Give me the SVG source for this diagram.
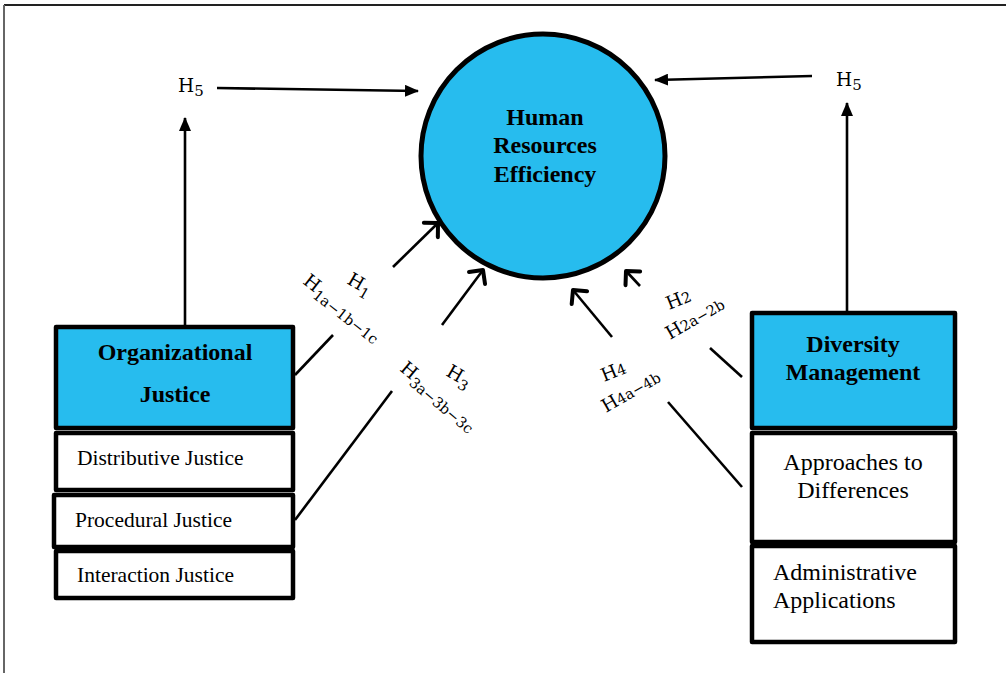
<svg xmlns="http://www.w3.org/2000/svg" width="1006" height="673" viewBox="0 0 1006 673">
<style>
.box{stroke:#000;stroke-width:4.5;stroke-linejoin:round}
.main{fill:#27bcee}
.sub{fill:#fff}
.bold{font-family:"Liberation Serif",serif;font-weight:bold;font-size:24px;fill:#000;text-anchor:middle}
.reg{font-family:"Liberation Serif",serif;font-size:21.5px;fill:#000}
.big{font-family:"Liberation Serif",serif;font-size:24px;fill:#000}
.h{font-family:"DejaVu Serif",serif;font-size:18.5px;fill:#000}
.ln{stroke:#000;stroke-width:2.6;fill:none}
.open{marker-end:url(#chev)}
.fill{marker-end:url(#tri)}
</style>
<defs>
<marker id="chev" markerUnits="userSpaceOnUse" viewBox="0 0 20 24" refX="16" refY="12" markerWidth="20" markerHeight="24" orient="auto" overflow="visible">
<path d="M6,2 L16,12 L6,22" fill="none" stroke="#000" stroke-width="4" stroke-linecap="round" stroke-linejoin="round"/>
</marker>
<marker id="tri" markerUnits="userSpaceOnUse" viewBox="0 0 14 12" refX="13" refY="6" markerWidth="14" markerHeight="12" orient="auto">
<path d="M0,0 L14,6 L0,12 Z" fill="#000"/>
</marker>
</defs>
<rect x="0" y="0" width="1006" height="673" fill="#fff"/>
<line x1="4" y1="5" x2="1006" y2="5" stroke="#222" stroke-width="2"/>
<line x1="4" y1="5" x2="4" y2="673" stroke="#666" stroke-width="2"/>

<g id="connectors">
<line class="ln fill" x1="185" y1="327" x2="185" y2="118"/>
<line class="ln fill" x1="847" y1="312" x2="847" y2="103"/>
<line class="ln fill" x1="217" y1="88" x2="418" y2="91"/>
<line class="ln fill" x1="812" y1="76" x2="655" y2="80"/>
<line class="ln" x1="295" y1="375" x2="333" y2="335"/>
<line class="ln open" x1="393" y1="267" x2="438" y2="223"/>
<line class="ln" x1="295" y1="520" x2="392" y2="391"/>
<line class="ln open" x1="442" y1="325" x2="483" y2="270"/>
<line class="ln" x1="742" y1="377" x2="710" y2="348"/>
<line class="ln open" x1="640" y1="286" x2="626" y2="271"/>
<line class="ln" x1="742" y1="487" x2="668" y2="402"/>
<line class="ln open" x1="612" y1="337" x2="573" y2="290"/>
</g>

<g id="labels">
<text class="h" x="178" y="92" font-size="20">H<tspan font-size="15" dy="4">5</tspan></text>
<text class="h" x="836" y="86" font-size="20">H<tspan font-size="15" dy="4">5</tspan></text>
<text class="h" transform="translate(346,283) rotate(30)">H<tspan font-size="14.5" dy="5">1</tspan></text>
<text class="h" transform="translate(302,283) rotate(38)">H<tspan font-size="14.5" dy="5">1a−1b−1c</tspan></text>
<text class="h" transform="translate(445,375) rotate(30)">H<tspan font-size="14.5" dy="5">3</tspan></text>
<text class="h" transform="translate(399,370) rotate(40)">H<tspan font-size="14.5" dy="5">3a−3b−3c</tspan></text>
<text class="h" transform="translate(669,310) rotate(-22)">H<tspan font-size="14.5" dy="0">2</tspan></text>
<text class="h" transform="translate(670,340) rotate(-30)">H<tspan font-size="14.5" dy="0">2a−2b</tspan></text>
<text class="h" transform="translate(604,382) rotate(-22)">H<tspan font-size="14.5" dy="0">4</tspan></text>
<text class="h" transform="translate(606,413) rotate(-30)">H<tspan font-size="14.5" dy="0">4a−4b</tspan></text>
</g>

<g id="hr-efficiency">
<circle cx="543" cy="156" r="122" fill="#27bcee" stroke="#000" stroke-width="5"/>
<text class="bold" x="545" y="125">Human</text>
<text class="bold" x="545" y="153">Resources</text>
<text class="bold" x="545" y="182">Efficiency</text>
</g>

<g id="organizational-justice">
<rect class="box main" x="56" y="327" width="237" height="101"/>
<text class="bold" x="175" y="360">Organizational</text>
<text class="bold" x="175" y="402">Justice</text>
</g>
<g id="distributive-justice">
<rect class="box sub" x="56" y="433" width="237" height="57"/>
<text class="reg" x="77" y="465">Distributive Justice</text>
</g>
<g id="procedural-justice">
<rect class="box sub" x="54" y="495" width="239" height="52"/>
<text class="reg" x="75" y="527">Procedural Justice</text>
</g>
<g id="interaction-justice">
<rect class="box sub" x="56" y="551" width="237" height="47"/>
<text class="reg" x="77" y="582">Interaction Justice</text>
</g>

<g id="diversity-management">
<rect class="box main" x="752" y="313" width="203" height="115"/>
<text class="bold" x="853" y="352">Diversity</text>
<text class="bold" x="853" y="380">Management</text>
</g>
<g id="approaches">
<rect class="box sub" x="752" y="433" width="203" height="109"/>
<text class="big" x="853" y="470" text-anchor="middle">Approaches to</text>
<text class="big" x="853" y="498" text-anchor="middle">Differences</text>
</g>
<g id="administrative">
<rect class="box sub" x="752" y="546" width="203" height="96"/>
<text class="big" x="773" y="580">Administrative</text>
<text class="big" x="773" y="608">Applications</text>
</g>
</svg>
